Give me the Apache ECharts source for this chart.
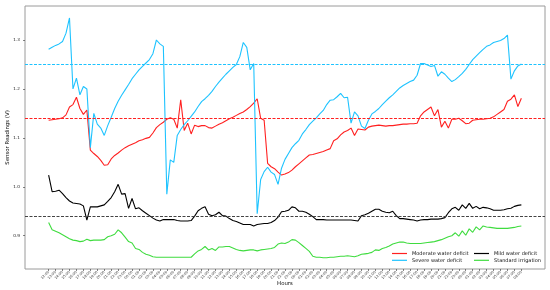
<!DOCTYPE html>
<html>
<head>
<meta charset="utf-8">
<script src="https://cdn.jsdelivr.net/npm/echarts@6/dist/echarts.min.js"></script>
<style>
html, body { margin: 0; background: #fff; }
#chart { width: 550px; height: 290px; }
</style>
</head>
<body>
<div id="chart"></div>
<script>
// hourly tick labels along the x axis
const hourLabels = [
  '12:00','13:00','14:00','15:00','16:00','17:00','18:00','19:00','20:00','21:00','22:00','23:00',
  '00:00','01:00','02:00','03:00','04:00','05:00','06:00','07:00','08:00','09:00','10:00','11:00',
  '12:00','13:00','14:00','15:00','16:00','17:00','18:00','19:00','20:00','21:00','22:00','23:00',
  '00:00','01:00','02:00','03:00','04:00','05:00','06:00','07:00','08:00','09:00','10:00','11:00',
  '12:00','13:00','14:00','15:00','16:00','17:00','18:00','19:00','20:00','21:00','22:00','23:00',
  '00:00','01:00','02:00','03:00','04:00','05:00','06:00','07:00','08:00'
];
const stepHours = 0.5; // readings every half hour

const moderate = [
  1.136,1.137,1.138,1.139,1.141,1.147,1.163,1.168,1.183,1.160,
  1.148,1.157,1.075,1.068,1.062,1.054,1.044,1.045,1.057,1.064,
  1.069,1.075,1.080,1.084,1.087,1.090,1.094,1.096,1.099,1.101,
  1.110,1.121,1.127,1.132,1.138,1.141,1.138,1.120,1.178,1.115,
  1.130,1.108,1.126,1.123,1.125,1.125,1.121,1.120,1.124,1.128,
  1.131,1.135,1.139,1.142,1.146,1.150,1.153,1.158,1.164,1.171,
  1.180,1.140,1.136,1.048,1.041,1.037,1.030,1.024,1.026,1.029,
  1.034,1.041,1.047,1.053,1.059,1.065,1.066,1.068,1.070,1.072,
  1.075,1.078,1.094,1.098,1.106,1.112,1.115,1.120,1.105,1.118,
  1.117,1.116,1.122,1.124,1.125,1.126,1.125,1.124,1.125,1.125,
  1.126,1.127,1.128,1.128,1.129,1.129,1.130,1.145,1.153,1.158,
  1.163,1.145,1.158,1.122,1.134,1.120,1.138,1.138,1.140,1.135,
  1.129,1.130,1.136,1.137,1.138,1.138,1.139,1.140,1.143,1.148,
  1.153,1.158,1.175,1.179,1.188,1.164,1.181
];
const severe = [
  1.281,1.285,1.289,1.292,1.297,1.314,1.345,1.200,1.222,1.188,
  1.205,1.200,1.080,1.150,1.128,1.120,1.105,1.125,1.142,1.160,
  1.175,1.187,1.198,1.209,1.221,1.230,1.239,1.246,1.253,1.260,
  1.272,1.300,1.292,1.287,0.985,1.055,1.050,1.105,1.117,1.127,
  1.135,1.144,1.153,1.164,1.174,1.180,1.187,1.195,1.205,1.214,
  1.222,1.230,1.237,1.244,1.250,1.266,1.295,1.285,1.239,1.252,
  0.945,1.015,1.031,1.040,1.030,1.025,1.005,1.038,1.056,1.068,
  1.080,1.088,1.095,1.108,1.117,1.127,1.134,1.141,1.149,1.156,
  1.168,1.177,1.178,1.184,1.191,1.182,1.183,1.130,1.153,1.145,
  1.124,1.119,1.136,1.149,1.154,1.160,1.168,1.175,1.182,1.188,
  1.195,1.202,1.207,1.211,1.215,1.218,1.228,1.252,1.252,1.249,
  1.246,1.248,1.226,1.235,1.230,1.222,1.215,1.219,1.225,1.232,
  1.240,1.250,1.260,1.267,1.274,1.281,1.287,1.290,1.295,1.297,
  1.299,1.303,1.310,1.220,1.237,1.247,1.251
];
const mild = [
  1.024,0.990,0.991,0.993,0.986,0.978,0.971,0.967,0.966,0.965,
  0.961,0.932,0.959,0.959,0.959,0.961,0.963,0.970,0.978,0.990,
  1.005,0.985,0.986,0.956,0.976,0.955,0.957,0.951,0.946,0.941,
  0.936,0.932,0.930,0.933,0.933,0.933,0.933,0.931,0.930,0.930,
  0.930,0.931,0.940,0.951,0.956,0.959,0.944,0.941,0.943,0.948,
  0.941,0.940,0.935,0.931,0.929,0.926,0.923,0.923,0.923,0.920,
  0.923,0.924,0.925,0.925,0.927,0.931,0.938,0.949,0.950,0.952,
  0.959,0.957,0.950,0.950,0.948,0.944,0.939,0.933,0.933,0.933,
  0.932,0.932,0.932,0.932,0.932,0.932,0.932,0.932,0.931,0.930,
  0.941,0.943,0.946,0.950,0.954,0.954,0.950,0.948,0.947,0.950,
  0.941,0.935,0.935,0.934,0.933,0.932,0.930,0.932,0.933,0.933,
  0.934,0.934,0.934,0.935,0.937,0.947,0.955,0.958,0.952,0.963,
  0.956,0.966,0.956,0.960,0.955,0.958,0.957,0.955,0.952,0.952,
  0.952,0.953,0.955,0.956,0.960,0.962,0.963
];
const standard = [
  0.927,0.912,0.909,0.906,0.902,0.898,0.894,0.891,0.890,0.888,
  0.889,0.893,0.890,0.891,0.891,0.891,0.892,0.898,0.900,0.903,
  0.912,0.906,0.897,0.888,0.885,0.874,0.872,0.866,0.862,0.860,
  0.857,0.856,0.856,0.856,0.856,0.856,0.856,0.856,0.856,0.856,
  0.856,0.856,0.863,0.869,0.872,0.878,0.871,0.874,0.870,0.877,
  0.877,0.878,0.878,0.875,0.872,0.870,0.869,0.870,0.871,0.871,
  0.869,0.871,0.872,0.873,0.874,0.876,0.883,0.885,0.884,0.887,
  0.892,0.891,0.886,0.880,0.874,0.868,0.858,0.856,0.856,0.855,
  0.855,0.856,0.856,0.857,0.858,0.858,0.859,0.858,0.857,0.859,
  0.862,0.863,0.864,0.866,0.871,0.870,0.874,0.876,0.879,0.883,
  0.885,0.887,0.887,0.885,0.884,0.884,0.884,0.884,0.885,0.886,
  0.887,0.888,0.890,0.892,0.895,0.898,0.900,0.906,0.899,0.910,
  0.901,0.914,0.907,0.918,0.912,0.920,0.918,0.917,0.916,0.915,
  0.915,0.915,0.915,0.916,0.917,0.919,0.920
];
const yTicks = [0.9, 1.0, 1.1, 1.2, 1.3];

// threshold (dashed) levels
const moderateLimit = 1.14;
const severeLimit = 1.25;
const mildLimit = 0.94;

const font = 'DejaVu Sans';
const hourTicks = hourLabels.map((_, i) => i);
const toPoints = arr => arr.map((v, i) => [i * stepHours, v]);

function lineSeries(name, data, color, limit, limitColor) {
  const s = {
    name: name,
    type: 'line',
    data: toPoints(data),
    symbol: 'none',
    itemStyle: { color: color },
    lineStyle: { width: 1.1, color: color },
    z: 3
  };
  if (limit != null) {
    const c = limitColor || color;
    s.markLine = {
      silent: true,
      symbol: 'none',
      label: { show: false },
      itemStyle: { color: c },
      lineStyle: { type: [3, 1.5], width: 1, color: c, opacity: 1 },
      data: [{ yAxis: limit, lineStyle: { color: c, type: [3, 1.5], width: 1 } }]
    };
  }
  return s;
}

const legendText = { fontSize: 5, color: '#111', fontFamily: font };

const chart = echarts.init(document.getElementById('chart'), null, { renderer: 'canvas' });
chart.setOption({
  animation: false,
  backgroundColor: '#fff',
  textStyle: { fontFamily: font },
  grid: {
    left: 25, right: 5, top: 6, bottom: 21,
    outerBoundsMode: 'none',
    containLabel: false,
    show: true, borderColor: '#9a9a9a', borderWidth: 1
  },
  legend: [
    {
      data: ['Moderate water deficit', 'Severe water deficit'],
      orient: 'vertical', left: 392, top: 251, padding: 0,
      icon: 'rect', itemWidth: 15, itemHeight: 1.2, itemGap: 1.8,
      textStyle: legendText
    },
    {
      data: ['Mild water deficit', 'Standard irrigation'],
      orient: 'vertical', left: 474, top: 251, padding: 0,
      icon: 'rect', itemWidth: 15, itemHeight: 1.2, itemGap: 1.8,
      textStyle: legendText
    }
  ],
  xAxis: {
    type: 'value',
    min: -3.4, max: 71.4,
    name: 'Hours', nameLocation: 'middle', nameGap: 12, nameMoveOverlap: false,
    nameTextStyle: { fontSize: 5.4, color: '#111', fontFamily: font },
    axisLine: { show: false, onZero: false },
    splitLine: { show: false },
    axisTick: { customValues: hourTicks, length: 2, lineStyle: { color: '#333', width: 0.6 } },
    axisLabel: {
      customValues: hourTicks,
      formatter: v => hourLabels[Math.round(v)],
      rotate: 45, fontSize: 3.5, margin: 2.5, color: '#333', fontFamily: font
    }
  },
  yAxis: {
    type: 'value',
    min: 0.832, max: 1.3695,
    name: 'Sensor Readings (V)', nameLocation: 'middle', nameGap: 15, nameMoveOverlap: false,
    nameTextStyle: { fontSize: 5.4, color: '#111', fontFamily: font },
    axisLine: { show: false, onZero: false },
    splitLine: { show: false },
    axisTick: { show: true, customValues: yTicks, length: 2, lineStyle: { color: '#333', width: 0.6 } },
    axisLabel: {
      customValues: yTicks,
      formatter: v => v.toFixed(1),
      fontSize: 4.2, margin: 5, color: '#222', fontFamily: font
    }
  },
  series: [
    lineSeries('Moderate water deficit', moderate, '#ff2020', moderateLimit),
    lineSeries('Severe water deficit', severe, '#1ec3ff', severeLimit),
    lineSeries('Mild water deficit', mild, '#000000', mildLimit, '#444444'),
    lineSeries('Standard irrigation', standard, '#3fdc3f', null)
  ]
});
</script>
</body>
</html>
